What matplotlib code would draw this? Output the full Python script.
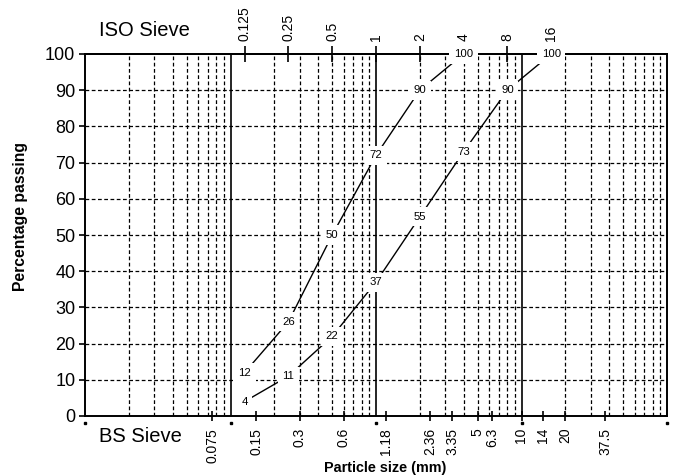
import matplotlib
matplotlib.use("Agg")
import matplotlib.pyplot as plt
from matplotlib.ticker import FixedLocator, NullLocator

plt.rcParams['font.family'] = ['Liberation Sans', 'DejaVu Sans']

# sieve sizes (mm)
iso_sieves = [0.125, 0.25, 0.5, 1, 2, 4, 8, 16]
iso_labels = ['0.125', '0.25', '0.5', '1', '2', '4', '8', '16']
bs_sieves = [0.075, 0.15, 0.3, 0.6, 1.18, 2.36, 3.35, 5, 6.3, 10, 14, 20, 37.5]
bs_labels = ['0.075', '0.15', '0.3', '0.6', '1.18', '2.36', '3.35', '5', '6.3',
             '10', '14', '20', '37.5']

# grading curves
fine_size = [0.125, 0.25, 0.5, 1, 2, 4]
fine_passing = [12, 26, 50, 72, 90, 100]
coarse_size = [0.125, 0.25, 0.5, 1, 2, 4, 8, 16]
coarse_passing = [4, 11, 22, 37, 55, 73, 90, 100]

decades = [0.01, 0.1, 1, 10, 100]
y_ticks = list(range(0, 101, 10))

W, H = 677, 476
fig = plt.figure(figsize=(W / 100, H / 100), dpi=100)
ax = fig.add_axes([85 / W, 1 - 416 / H, (667 - 85) / W, (416 - 54) / H])

ax.set_xscale('log')
ax.set_xlim(0.01, 100)
ax.set_ylim(0, 100)

# grid: dashed minor log lines, solid decade lines
for d in decades[:-1]:
    for k in range(2, 10):
        ax.axvline(d * k, color='black', lw=0.9, ls=(0, (3, 2)), zorder=1)
for d in decades[1:-1]:
    ax.axvline(d, color='black', lw=1.2, zorder=1)
for y in y_ticks[1:-1]:
    ax.axhline(y, color='black', lw=0.9, ls=(0, (3, 2)), zorder=1)

for s in ax.spines.values():
    s.set_linewidth(1.4)

# bottom axis = BS sieves
ax.xaxis.set_major_locator(FixedLocator(bs_sieves))
ax.xaxis.set_minor_locator(NullLocator())
ax.set_xticklabels(bs_labels, rotation=90, fontsize=10)
ax.tick_params(axis='x', which='major', direction='inout', length=7, width=1.2, pad=5)

ax.set_yticks(y_ticks)
ax.tick_params(axis='y', direction='out', length=4, width=1.2, labelsize=13, pad=3)

# little marks at the decades under the axis
ax.plot(decades, [-1.8] * len(decades), 's', color='black', ms=1.8, clip_on=False)

# top axis = ISO sieves
top = ax.secondary_xaxis('top')
top.xaxis.set_major_locator(FixedLocator(iso_sieves))
top.xaxis.set_minor_locator(NullLocator())
top.set_xticklabels(iso_labels, rotation=90, fontsize=10)
top.tick_params(axis='x', direction='inout', length=11, width=1.2, pad=3.5)
top.spines['top'].set_linewidth(1.4)

# grading curves with boxed values
for sizes, passing in [(fine_size, fine_passing), (coarse_size, coarse_passing)]:
    ax.plot(sizes, passing, color='black', lw=1.0, zorder=3)
    for x, y in zip(sizes, passing):
        ax.text(x, y, str(y), fontsize=8.2, ha='center', va='center', zorder=6,
                clip_on=False,
                bbox=dict(boxstyle='square,pad=0.4', fc='white', ec='none'))

fig.text(144 / W, 1 - 30 / H, 'ISO Sieve', fontsize=14.5, ha='center', va='center')
fig.text(140 / W, 1 - 437 / H, 'BS Sieve', fontsize=14.5, ha='center', va='center')
fig.text(21 / W, 1 - 217 / H, 'Percentage passing', fontsize=11.3, fontweight='bold',
         rotation=90, ha='center', va='center')
fig.text(385 / W, 1 - 468 / H, 'Particle size (mm)', fontsize=10.4, fontweight='bold',
         ha='center', va='center')

fig.savefig('out.png', dpi=100)
